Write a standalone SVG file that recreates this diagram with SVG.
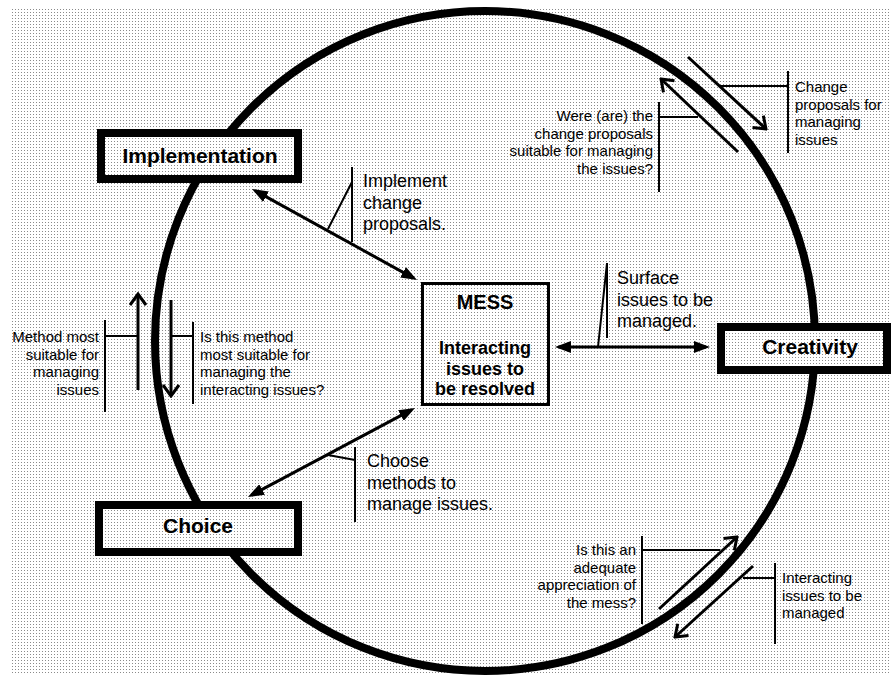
<svg xmlns="http://www.w3.org/2000/svg" width="891" height="677" viewBox="0 0 891 677">
<defs>
<pattern id="dots" width="3" height="3" patternUnits="userSpaceOnUse">
<rect width="3" height="3" fill="#ffffff"/>
<rect width="1" height="1" fill="#8a8a8a"/>
</pattern>
<marker id="tri" viewBox="0 0 16 12" refX="12" refY="6" markerWidth="16" markerHeight="12" markerUnits="userSpaceOnUse" orient="auto-start-reverse">
<path d="M0,0 L16,6 L0,12 Z" fill="#000"/>
</marker>
<marker id="chev" viewBox="0 0 14 18" refX="12" refY="9" markerWidth="14" markerHeight="18" markerUnits="userSpaceOnUse" orient="auto">
<path d="M1,1 L12,9 L1,17" fill="none" stroke="#000" stroke-width="3"/>
</marker>
</defs>
<style>
.box{fill:url(#dots);stroke:#000;stroke-width:8}
.mess{fill:url(#dots);stroke:#000;stroke-width:3}
.node{font-family:"Liberation Sans",Arial,sans-serif;font-weight:bold;text-anchor:middle;fill:#000}
.lab{font-family:"Liberation Sans",Arial,sans-serif;font-size:18px;fill:#000}
.sm{font-family:"Liberation Sans",Arial,sans-serif;font-size:15px;fill:#000}
.end{text-anchor:end}
.main{stroke:#000;stroke-width:3;fill:none;marker-start:url(#tri);marker-end:url(#tri)}
.side{stroke:#000;stroke-width:3;fill:none;marker-end:url(#chev)}
.lead{stroke:#000;stroke-width:2;fill:none}
</style>
<rect width="891" height="677" fill="#ffffff"/>
<rect x="10" y="8" width="881" height="667" fill="url(#dots)"/>
<circle id="cycle" cx="485" cy="341" r="330" fill="none" stroke="#000" stroke-width="8"/>

<g id="connectors">
<line class="main" x1="255.5" y1="190.9" x2="413.5" y2="278.1"/>
<line class="main" x1="559" y1="347" x2="706" y2="347"/>
<line class="main" x1="411.5" y1="409.9" x2="251.5" y2="495.1"/>
<line class="side" x1="138" y1="390" x2="138" y2="294"/>
<line class="side" x1="171" y1="300" x2="171" y2="396"/>
<line class="side" x1="738" y1="152" x2="661" y2="79"/>
<line class="side" x1="688" y1="57" x2="766" y2="129"/>
<line class="side" x1="659" y1="609" x2="737" y2="537"/>
<line class="side" x1="753" y1="566" x2="675" y2="637"/>
</g>

<g id="leaders">
<path class="lead" d="M352,167 V242 M328,229 L352,182"/>
<path class="lead" d="M607,263 V338 M598,347 L607,263"/>
<path class="lead" d="M328,455 L355,460 M355,447 V522"/>
<path class="lead" d="M105,320 V412 M105,336 H138"/>
<path class="lead" d="M193,322 V404 M171,336 H193"/>
<path class="lead" d="M659,102 V192 M659,117 H698"/>
<path class="lead" d="M788,71 V153 M720,86 H788"/>
<path class="lead" d="M642,536 V624 M642,550 H720"/>
<path class="lead" d="M775,563 V644 M743,578 H775"/>
</g>

<g id="implementation">
<rect class="box" x="101" y="133" width="197" height="46"/>
<text class="node" x="200" y="163" font-size="21">Implementation</text>
</g>
<g id="choice">
<rect class="box" x="99" y="505" width="199" height="47"/>
<text class="node" x="198" y="533" font-size="21">Choice</text>
</g>
<g id="creativity">
<rect class="box" x="721" y="327" width="166" height="43"/>
<text class="node" x="810" y="354" font-size="21">Creativity</text>
</g>
<g id="mess">
<rect class="mess" x="422.5" y="283.5" width="126" height="121"/>
<text class="node" x="485" y="309" font-size="20">MESS</text>
<text class="node" x="485" y="354" font-size="18">Interacting</text>
<text class="node" x="485" y="374.5" font-size="18">issues to</text>
<text class="node" x="485" y="395" font-size="18">be resolved</text>
</g>

<g id="label-implement">
<text class="lab" x="363" y="187">Implement</text>
<text class="lab" x="363" y="208.5">change</text>
<text class="lab" x="363" y="230">proposals.</text>
</g>
<g id="label-surface">
<text class="lab" x="617" y="284">Surface</text>
<text class="lab" x="617" y="305.5">issues to be</text>
<text class="lab" x="617" y="327">managed.</text>
</g>
<g id="label-choose">
<text class="lab" x="367" y="467">Choose</text>
<text class="lab" x="367" y="488.5">methods to</text>
<text class="lab" x="367" y="510">manage issues.</text>
</g>
<g id="label-method">
<text class="sm end" x="99" y="342">Method most</text>
<text class="sm end" x="99" y="359.5">suitable for</text>
<text class="sm end" x="99" y="377">managing</text>
<text class="sm end" x="99" y="394.5">issues</text>
</g>
<g id="label-method-q">
<text class="sm" x="200" y="342">Is this method</text>
<text class="sm" x="200" y="359.5">most suitable for</text>
<text class="sm" x="200" y="377">managing the</text>
<text class="sm" x="200" y="394.5">interacting issues?</text>
</g>
<g id="label-were">
<text class="sm end" x="653" y="121">Were (are) the</text>
<text class="sm end" x="653" y="138.5">change proposals</text>
<text class="sm end" x="653" y="156">suitable for managing</text>
<text class="sm end" x="653" y="173.5">the issues?</text>
</g>
<g id="label-change">
<text class="sm" x="795" y="92">Change</text>
<text class="sm" x="795" y="109.5">proposals for</text>
<text class="sm" x="795" y="127">managing</text>
<text class="sm" x="795" y="144.5">issues</text>
</g>
<g id="label-adequate">
<text class="sm end" x="636" y="555">Is this an</text>
<text class="sm end" x="636" y="572.5">adequate</text>
<text class="sm end" x="636" y="590">appreciation of</text>
<text class="sm end" x="636" y="607.5">the mess?</text>
</g>
<g id="label-interacting">
<text class="sm" x="782" y="583">Interacting</text>
<text class="sm" x="782" y="600.5">issues to be</text>
<text class="sm" x="782" y="618">managed</text>
</g>
</svg>
